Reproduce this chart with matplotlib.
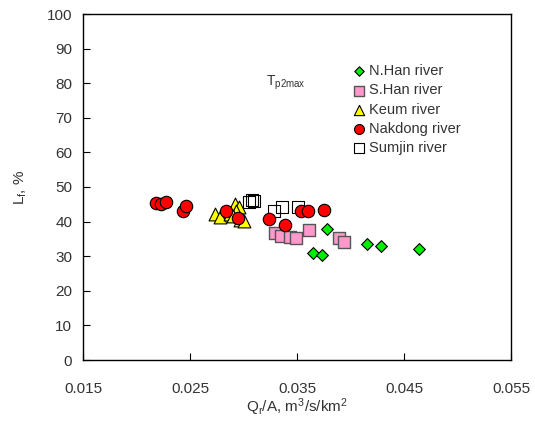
import matplotlib
matplotlib.use("Agg")
import matplotlib.pyplot as plt

plt.rcParams['font.family'] = ['Liberation Sans', 'DejaVu Sans']
plt.rcParams['mathtext.fontset'] = 'custom'
plt.rcParams['mathtext.rm'] = 'Liberation Sans'
plt.rcParams['mathtext.it'] = 'Liberation Sans'

# Specific discharge Qr/A (m3/s/km2) and Lf (%) per river basin
nhan_x = [0.0365, 0.0373, 0.0378, 0.0415, 0.0428, 0.0464]
nhan_y = [31.0, 30.4, 38.0, 33.4, 32.9, 32.1]

shan_x = [0.0329, 0.0335, 0.0343, 0.0349, 0.0361, 0.0389, 0.0394]
shan_y = [36.7, 35.9, 35.6, 35.3, 37.5, 35.3, 34.0]

keum_x = [0.0273, 0.0278, 0.0287, 0.0292, 0.0296, 0.0293, 0.0297, 0.0300, 0.0290]
keum_y = [42.3, 41.4, 42.2, 45.0, 44.3, 43.2, 40.6, 40.3, 41.6]

nak_x = [0.0218, 0.0223, 0.0227, 0.0243, 0.0246, 0.0283, 0.0295, 0.0324,
         0.0339, 0.0354, 0.0360, 0.0375]
nak_y = [45.4, 45.2, 45.8, 43.1, 44.5, 43.2, 41.0, 40.8, 38.9, 43.2, 43.2, 43.4]

sum_x = [0.0305, 0.0308, 0.0310, 0.0328, 0.0336, 0.0351]
sum_y = [45.8, 46.3, 46.0, 43.0, 44.3, 44.3]

x_ticks = [0.015, 0.025, 0.035, 0.045, 0.055]
y_ticks = list(range(0, 101, 10))

text_col = '#333333'

fig = plt.figure(figsize=(5.35, 4.24), dpi=100)
ax = fig.add_axes([83.3 / 535, 64 / 424, (511 - 83.3) / 535, (360 - 14) / 424])

ax.scatter(nhan_x, nhan_y, marker='D', s=36, facecolor='#00ee00', edgecolor='black',
           linewidth=0.8, label='N.Han river', zorder=3)
ax.scatter(shan_x, shan_y, marker='s', s=75, facecolor='#ff99cc', edgecolor='#555555',
           linewidth=1.0, label='S.Han river', zorder=3)
ax.scatter(keum_x, keum_y, marker='^', s=85, facecolor='#ffff00', edgecolor='black',
           linewidth=0.8, label='Keum river', zorder=3)
ax.scatter(nak_x, nak_y, marker='o', s=80, facecolor='#ff0000', edgecolor='black',
           linewidth=0.8, label='Nakdong river', zorder=4)
ax.scatter(sum_x, sum_y, marker='s', s=75, facecolor='none', edgecolor='black',
           linewidth=0.8, label='Sumjin river', zorder=3)

ax.set_xlim(0.015, 0.055)
ax.set_ylim(0, 100)
ax.set_xticks(x_ticks)
ax.set_xticklabels([f"{v:.3f}" for v in x_ticks])
ax.set_yticks(y_ticks)
ax.tick_params(axis='both', direction='in', length=5, width=0.8, labelsize=11,
               colors='black', labelcolor=text_col, top=False, right=False)
ax.tick_params(axis='x', pad=16)
ax.tick_params(axis='y', pad=8)
for sp in ax.spines.values():
    sp.set_linewidth(1.0)

ax.set_xlabel(r'Q$_\mathrm{r}$/A, m$^\mathrm{3}$/s/km$^\mathrm{2}$', fontsize=11,
              color=text_col, labelpad=0)
ax.set_ylabel(r'L$_\mathrm{f}$, %', fontsize=11, color=text_col, labelpad=13)

ax.text(0.0321, 80, r'T$_\mathrm{p2max}$', fontsize=10, color=text_col, va='center')

leg = ax.legend(loc='upper left', bbox_to_anchor=(0.611, 0.872), frameon=False,
                fontsize=10.5, handletextpad=0.1, labelspacing=0.36,
                borderaxespad=0, handlelength=1.2, markerscale=0.8)
for t in leg.get_texts():
    t.set_color(text_col)

fig.savefig('out.png', dpi=100)
